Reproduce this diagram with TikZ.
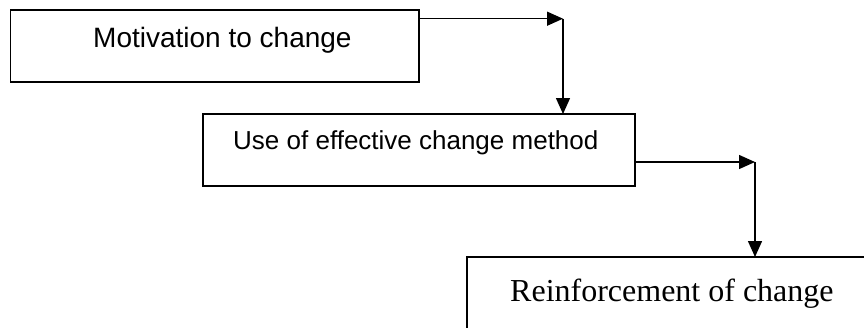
\documentclass[tikz,border=0pt]{standalone}
\usepackage{fontspec}
\setmainfont{Liberation Serif}
\newfontfamily\labelsans{Liberation Sans}
\usetikzlibrary{arrows.meta}
\begin{document}
\begin{tikzpicture}[x=1pt,y=-1pt,
  stagebox/.style={draw,line width=1.6pt,inner sep=0pt,outer sep=0pt},
  stagetext/.style={inner sep=0pt,anchor=base west},
  flow/.style={line width=1.4pt,-{Triangle[length=16pt,width=14pt]}}]
\useasboundingbox (0,0) rectangle (864,327);
% stage boxes
\node[stagebox,minimum width=408.5pt,minimum height=72pt] (motiv) at (214.75,46) {};
\node[stagebox,minimum width=432pt,minimum height=72pt] (method) at (419,150) {};
\begin{scope}
  \clip (0,0) rectangle (864,327);
  \node[stagebox,minimum width=408pt,minimum height=80pt] (reinf) at (671,297) {};
\end{scope}
% stage labels
\node[stagetext,font=\labelsans\fontsize{28}{32}\selectfont] (tmotiv) at (93,47) {Motivation to change};
\node[stagetext,font=\labelsans\fontsize{26}{30}\selectfont] (tmethod) at (233,149) {Use of effective change method};
\node[stagetext,font=\fontsize{32}{36}\selectfont] (treinf) at (510,301) {Reinforcement of change};
% connectors
\coordinate (bend1) at (563,18.7);
\coordinate (bend2) at (755,162);
\draw[flow] (motiv.east |- bend1) -- (bend1);
\draw[flow] (bend1) -- (bend1 |- method.north);
\draw[flow] (method.east |- bend2) -- (bend2);
\draw[flow] (bend2) -- (bend2 |- reinf.north);
\end{tikzpicture}
\end{document}
